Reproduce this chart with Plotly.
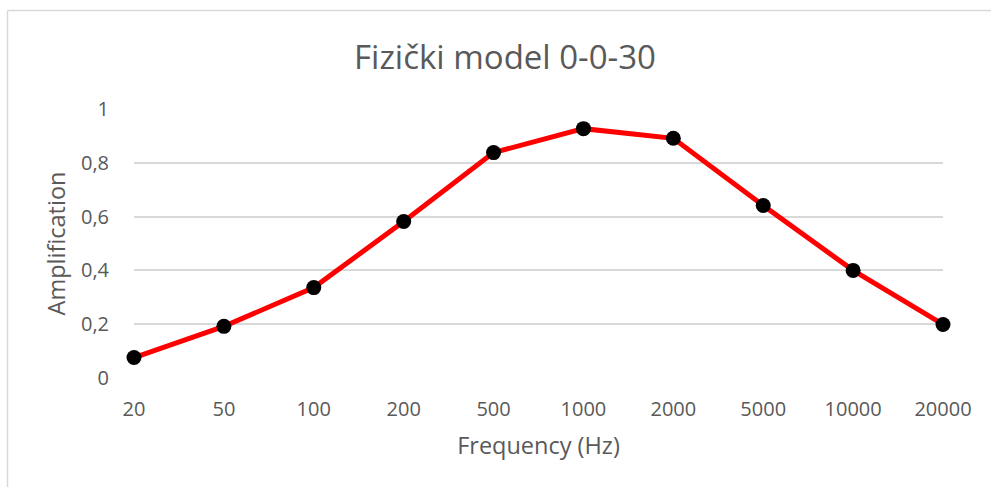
import plotly.graph_objects as go

# Frequency bands (Hz) and measured amplification
frequencies = ["20", "50", "100", "200", "500", "1000", "2000", "5000", "10000", "20000"]
amplification = [0.076, 0.192, 0.336, 0.582, 0.838, 0.927, 0.891, 0.641, 0.400, 0.199]
y_ticks = [0, 0.2, 0.4, 0.6, 0.8, 1]
y_tick_text = ["0", "0,2", "0,4", "0,6", "0,8", "1"]

TEXT = "#595959"
GRID = "#d9d9d9"
FONT = "Open Sans"

W, H = 991, 487
L, R, T, B = 134, 48, 108.5, 109.3

fig = go.Figure(
    go.Scatter(
        x=list(range(len(frequencies))),
        y=amplification,
        mode="lines+markers",
        line=dict(color="#ff0000", width=5),
        marker=dict(color="#000000", size=15),
        cliponaxis=False,
        showlegend=False,
    )
)

pw = W - L - R
ph = H - T - B
# light chart frame (left and top edges of the chart area)
fx0 = (7.5 - L) / pw
fy1 = (H - B - 10) / ph
fig.add_shape(type="line", xref="paper", yref="paper", x0=fx0, x1=fx0,
              y0=-(B + 5) / ph, y1=fy1, line=dict(color=GRID, width=1.5))
fig.add_shape(type="line", xref="paper", yref="paper", x0=fx0, x1=(W - L + 5) / pw,
              y0=fy1, y1=fy1, line=dict(color=GRID, width=1.5))

fig.update_layout(
    width=W,
    height=H,
    margin=dict(l=L, r=R, t=T, b=B),
    paper_bgcolor="white",
    plot_bgcolor="white",
    font=dict(family=FONT, color=TEXT, size=16),
    title=dict(
        text="Fizički model 0-0-30",
        x=(505) / W,
        xanchor="center",
        y=1 - 57 / H,
        yanchor="middle",
        font=dict(family=FONT, size=33, color=TEXT),
    ),
    xaxis=dict(
        range=[0, len(frequencies) - 1],
        tickmode="array",
        tickvals=list(range(len(frequencies))),
        ticktext=frequencies,
        showgrid=False,
        zeroline=False,
        showline=False,
        ticks="",
        ticklabelstandoff=17,
        tickfont=dict(size=20, color=TEXT),
        title=dict(text="Frequency (Hz)", font=dict(size=23.5, color=TEXT), standoff=16),
    ),
    yaxis=dict(
        range=[0, 1],
        tickmode="array",
        tickvals=y_ticks,
        ticktext=y_tick_text,
        showgrid=True,
        gridcolor=GRID,
        gridwidth=1.5,
        zeroline=False,
        showline=False,
        ticks="",
        ticklabelstandoff=24,
        tickfont=dict(size=20, color=TEXT),
        title=dict(text="Amplification", font=dict(size=23.5, color=TEXT), standoff=8),
    ),
)

fig.write_html("out.html")
